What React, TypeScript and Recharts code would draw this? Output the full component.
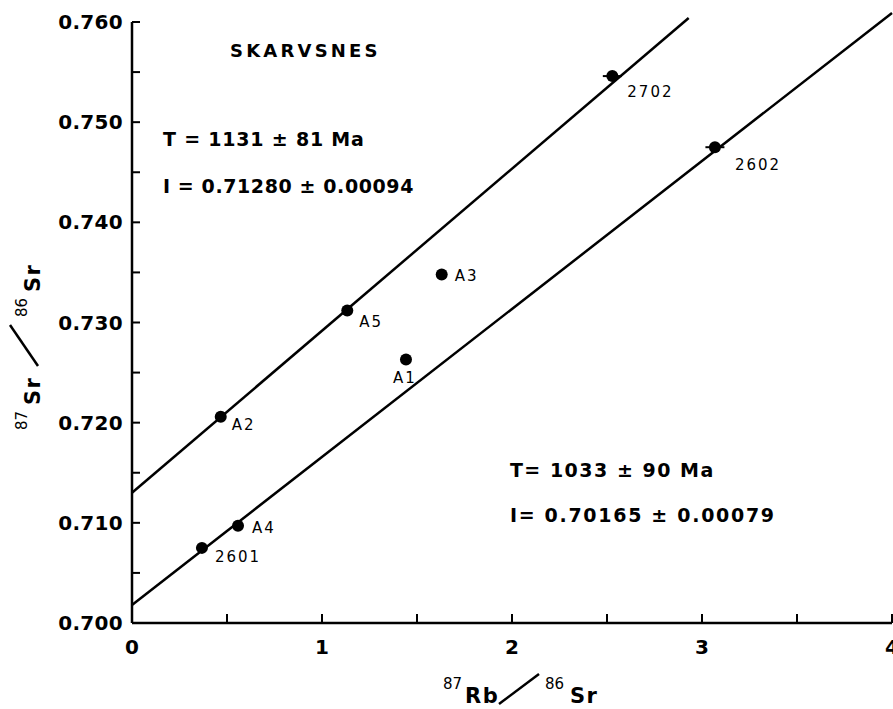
import React from 'react';
import { ScatterChart, Scatter, XAxis, YAxis, ReferenceLine, ReferenceDot, ErrorBar } from 'recharts';

// ---------- data ----------
const sampleNames = ['2601', 'A4', 'A2', 'A5', 'A1', 'A3', '2702', '2602'];
const rbSr = [0.368, 0.558, 0.467, 1.133, 1.442, 1.63, 2.528, 3.068];
const srSr = [0.7075, 0.7097, 0.7206, 0.7312, 0.7263, 0.7348, 0.7546, 0.7475];
const rbSrErr = [0, 0, 0, 0, 0, 0, 0.05, 0.05];

const upperIsochronX = [0, 2.93];
const upperIsochronY = [0.713, 0.7604];
const lowerIsochronX = [0, 4];
const lowerIsochronY = [0.7018, 0.7609];

const xTicks = [0, 0.5, 1, 1.5, 2, 2.5, 3, 3.5, 4];
const xTickLabels = ['0', '', '1', '', '2', '', '3', '', '4'];
const yTicks = [0.7, 0.705, 0.71, 0.715, 0.72, 0.725, 0.73, 0.735, 0.74, 0.745, 0.75, 0.755, 0.76];
const yTickLabels = ['0.700', '', '0.710', '', '0.720', '', '0.730', '', '0.740', '', '0.750', '', '0.760'];

const siteName = 'SKARVSNES';
const upperAgeText = 'T = 1131 ± 81 Ma';
const upperInitText = 'I = 0.71280 ± 0.00094';
const lowerAgeText = 'T= 1033 ± 90 Ma';
const lowerInitText = 'I= 0.70165 ± 0.00079';

// ---------- layout / style ----------
const FONT = '"DejaVu Sans", sans-serif';
const INK = '#000';

const annotations = [
  { text: siteName, x: 0.516, y: 0.75719, size: 18, ls: 3.2 },
  { text: upperAgeText, x: 0.163, y: 0.74832, size: 19, ls: 0.8 },
  { text: upperInitText, x: 0.163, y: 0.74363, size: 19, ls: 0.6 },
  { text: lowerAgeText, x: 1.989, y: 0.71527, size: 19, ls: 1.5 },
  { text: lowerInitText, x: 1.989, y: 0.71078, size: 19, ls: 1.7 },
];

const labelOffsets: Record<string, { dx: number; dy: number; anchor: string }> = {
  '2601': { dx: 13, dy: 9, anchor: 'start' },
  A4: { dx: 14, dy: 2, anchor: 'start' },
  A2: { dx: 11, dy: 8, anchor: 'start' },
  A5: { dx: 12, dy: 12, anchor: 'start' },
  A1: { dx: -1, dy: 18, anchor: 'middle' },
  A3: { dx: 13, dy: 2, anchor: 'start' },
  '2702': { dx: 15, dy: 16, anchor: 'start' },
  '2602': { dx: 20, dy: 18, anchor: 'start' },
};

const data = sampleNames.map((name, i) => ({ name, x: rbSr[i], y: srSr[i], xErr: rbSrErr[i] }));

const findIdx = (arr: number[], v: number) => arr.findIndex((a) => Math.abs(a - v) < 1e-9);

const XTick = (p: any) => {
  const { x, y, payload } = p;
  const i = findIdx(xTicks, payload.value);
  const label = i >= 0 ? xTickLabels[i] : '';
  return (
    <g>
      <line x1={x} x2={x} y1={y} y2={y - 9} stroke={INK} strokeWidth={2} />
      {label ? (
        <text x={x} y={y + 24} textAnchor="middle" dominantBaseline="central" fontFamily={FONT} fontWeight="bold" fontSize={20} fill={INK}>
          {label}
        </text>
      ) : null}
    </g>
  );
};

const YTick = (p: any) => {
  const { x, y, payload } = p;
  const i = findIdx(yTicks, payload.value);
  const label = i >= 0 ? yTickLabels[i] : '';
  return (
    <g>
      <line x1={x} x2={x + 8} y1={y} y2={y} stroke={INK} strokeWidth={2} />
      {label ? (
        <text x={x - 9} y={y} textAnchor="end" dominantBaseline="central" fontFamily={FONT} fontWeight="bold" fontSize={20} letterSpacing={0.3} fill={INK}>
          {label}
        </text>
      ) : null}
    </g>
  );
};

const PointShape = (p: any) => {
  const { cx, cy, payload } = p;
  if (cx == null || cy == null) return null;
  const off = labelOffsets[payload.name] || { dx: 12, dy: 8, anchor: 'start' };
  return (
    <g>
      <circle cx={cx} cy={cy} r={6} fill={INK} />
      <text
        x={cx + off.dx}
        y={cy + off.dy}
        textAnchor={off.anchor as any}
        dominantBaseline="central"
        fontFamily={FONT}
        fontSize={15}
        letterSpacing={2}
        fill={INK}
      >
        {payload.name}
      </text>
    </g>
  );
};

const makeAnnLabel = (text: string, size: number, ls: number) => (p: any) => {
  const vb = p.viewBox || p;
  const x = (vb.x || 0) + (vb.width || 0) / 2;
  const y = (vb.y || 0) + (vb.height || 0) / 2;
  return (
    <text x={x} y={y} textAnchor="start" dominantBaseline="central" fontFamily={FONT} fontWeight="bold" fontSize={size} letterSpacing={ls} fill={INK}>
      {text}
    </text>
  );
};

const XTitle = (p: any) => {
  const vb = p.viewBox || {};
  const cx = vb.x + vb.width / 2;
  const base = vb.y + 80;
  const sup = base - 14;
  return (
    <g fontFamily={FONT} fill={INK}>
      <text x={cx - 69} y={sup} fontSize={15}>87</text>
      <text x={cx - 47} y={base} fontSize={21} fontWeight="bold" letterSpacing={1.5}>Rb</text>
      <line x1={cx - 13} y1={base + 1} x2={cx + 27} y2={base - 29} stroke={INK} strokeWidth={2.5} />
      <text x={cx + 33} y={sup} fontSize={15}>86</text>
      <text x={cx + 58} y={base} fontSize={21} fontWeight="bold" letterSpacing={1.5}>Sr</text>
    </g>
  );
};

const YTitle = (p: any) => {
  const vb = p.viewBox || {};
  const gx = vb.x + 40;
  const gy = vb.y + 328;
  return (
    <g fontFamily={FONT} fill={INK} transform={`translate(${gx},${gy}) rotate(-90)`}>
      <text x={-80} y={-13} fontSize={15}>87</text>
      <text x={-55} y={0} fontSize={21} fontWeight="bold" letterSpacing={1.5}>Sr</text>
      <line x1={-16} y1={-2} x2={25} y2={-30} stroke={INK} strokeWidth={2.5} />
      <text x={33} y={-13} fontSize={15}>86</text>
      <text x={58} y={0} fontSize={21} fontWeight="bold" letterSpacing={1.5}>Sr</text>
    </g>
  );
};

export default function App() {
  return (
    <div style={{ position: 'absolute', left: 0, top: 0, background: '#fff' }}>
      <ScatterChart width={893} height={709} margin={{ top: 22, right: 1, bottom: 26, left: 0 }}>
        <XAxis
          type="number"
          dataKey="x"
          domain={[0, 4]}
          ticks={xTicks}
          interval={0}
          allowDataOverflow
          height={60}
          tickSize={0}
          tickMargin={0}
          tickLine={false}
          axisLine={{ stroke: INK, strokeWidth: 2.5 }}
          tick={<XTick />}
          label={<XTitle />}
        />
        <YAxis
          type="number"
          dataKey="y"
          domain={[0.7, 0.76]}
          ticks={yTicks}
          interval={0}
          allowDataOverflow
          width={132}
          tickSize={0}
          tickMargin={0}
          tickLine={false}
          axisLine={{ stroke: INK, strokeWidth: 2.5 }}
          tick={<YTick />}
          label={<YTitle />}
        />
        <ReferenceLine
          segment={[
            { x: upperIsochronX[0], y: upperIsochronY[0] },
            { x: upperIsochronX[1], y: upperIsochronY[1] },
          ]}
          stroke={INK}
          strokeWidth={2.5}
          ifOverflow="visible"
        />
        <ReferenceLine
          segment={[
            { x: lowerIsochronX[0], y: lowerIsochronY[0] },
            { x: lowerIsochronX[1], y: lowerIsochronY[1] },
          ]}
          stroke={INK}
          strokeWidth={2.5}
          ifOverflow="visible"
        />
        {annotations.map((a, i) => (
          <ReferenceDot
            key={i}
            x={a.x}
            y={a.y}
            r={0}
            fill="none"
            stroke="none"
            label={makeAnnLabel(a.text, a.size, a.ls)}
          />
        ))}
        <Scatter data={data} shape={<PointShape />} isAnimationActive={false}>
          <ErrorBar dataKey="xErr" direction="x" width={0} stroke={INK} strokeWidth={2} />
        </Scatter>
      </ScatterChart>
    </div>
  );
}
